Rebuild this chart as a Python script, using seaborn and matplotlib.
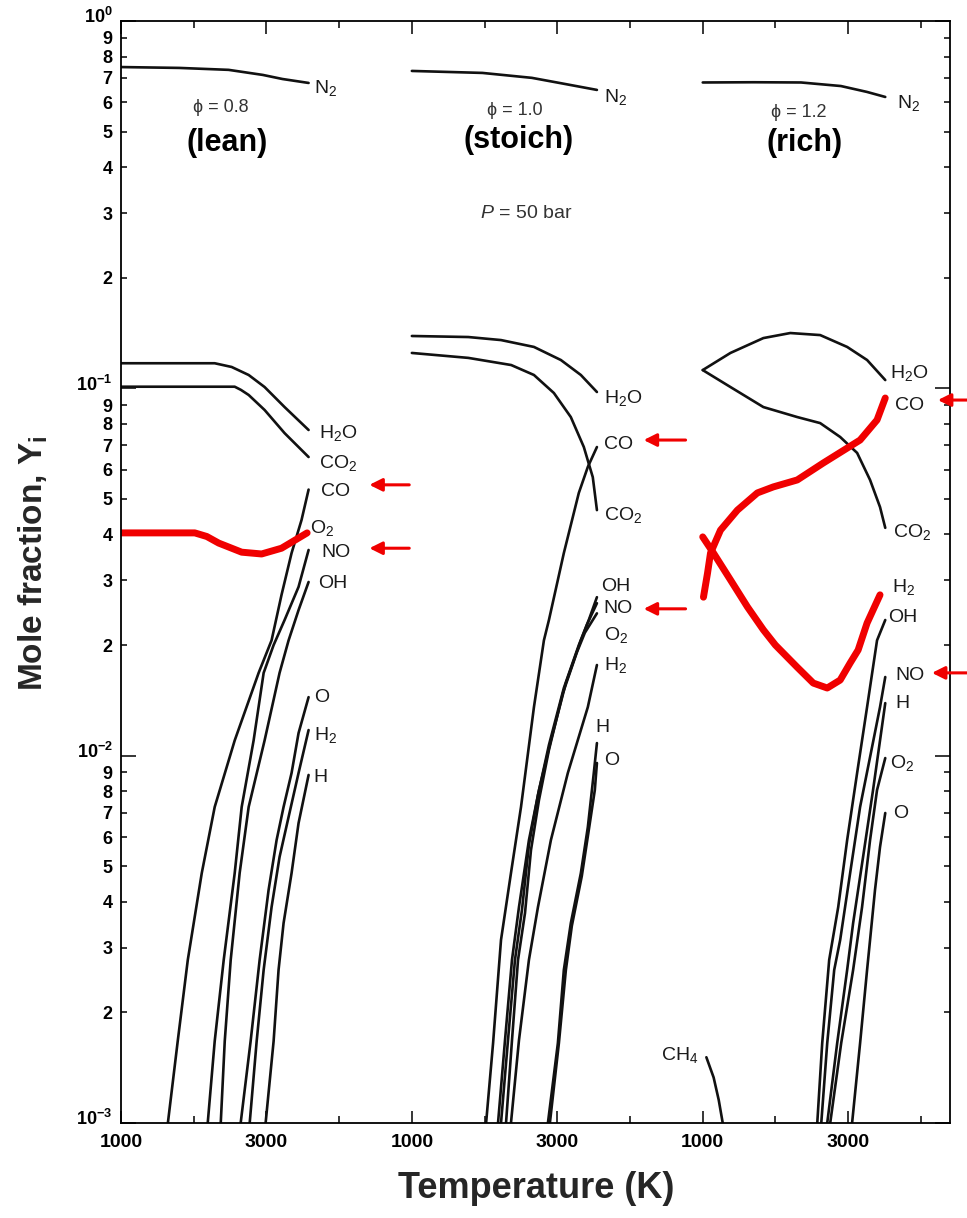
import matplotlib
matplotlib.use("Agg")
import matplotlib.pyplot as plt
import matplotlib.transforms as mtransforms
import numpy as np
import seaborn as sns
from matplotlib.ticker import FixedLocator, FixedFormatter

# Equilibrium mole fractions vs temperature, P = 50 bar, three mixtures.
# Each panel spans 4000 K on one shared x axis.
PANEL_WIDTH = 4000

# ---- lean, phi = 0.8 ----
lean_T_N2 = [1000, 1800, 2480, 2950, 3220, 3580]
lean_Y_N2 = [0.749, 0.745, 0.736, 0.713, 0.695, 0.678]
lean_T_H2O = [1000, 2289, 2522, 2756, 2975, 3250, 3580]
lean_Y_H2O = [0.117, 0.117, 0.1143, 0.1087, 0.1008, 0.0889, 0.077]
lean_T_CO2 = [1000, 2564, 2650, 2756, 2975, 3250, 3580]
lean_Y_CO2 = [0.101, 0.101, 0.099, 0.0959, 0.0873, 0.0755, 0.065]
lean_T_O2 = [1000, 2015, 2180, 2344, 2660, 2934, 3208, 3560]
lean_Y_O2 = [0.0404, 0.0404, 0.0395, 0.0379, 0.0358, 0.0354, 0.0367, 0.0404]
lean_T_CO = [1645, 1782, 1919, 2111, 2289, 2564, 2893, 3071, 3208, 3346, 3483, 3580]
lean_Y_CO = [0.001, 0.00168, 0.00278, 0.00479, 0.00725, 0.0110, 0.0168, 0.0206, 0.0274, 0.0356, 0.0438, 0.053]
lean_T_NO = [2193, 2289, 2413, 2564, 2660, 2824, 2962, 3099, 3250, 3442, 3580]
lean_Y_NO = [0.001, 0.00167, 0.00278, 0.00479, 0.00725, 0.0110, 0.0168, 0.0200, 0.0234, 0.0288, 0.0363]
lean_T_OH = [2372, 2427, 2509, 2632, 2756, 2975, 3181, 3305, 3442, 3580]
lean_Y_OH = [0.001, 0.00167, 0.00278, 0.00479, 0.00725, 0.0110, 0.0168, 0.0206, 0.0249, 0.0297]
lean_T_O = [2646, 2783, 2907, 3030, 3140, 3236, 3346, 3442, 3580]
lean_Y_O = [0.001, 0.00167, 0.00278, 0.00431, 0.00589, 0.00725, 0.00897, 0.01152, 0.01443]
lean_T_H2 = [2770, 2866, 2962, 3071, 3181, 3305, 3442, 3580]
lean_Y_H2 = [0.001, 0.00167, 0.00261, 0.00387, 0.0053, 0.00681, 0.00897, 0.01174]
lean_T_H = [2989, 3099, 3167, 3236, 3346, 3442, 3580]
lean_Y_H = [0.001, 0.00167, 0.00261, 0.0035, 0.00479, 0.00655, 0.00886]

# ---- stoichiometric, phi = 1.0 ----
stoich_T_N2 = [1000, 1970, 2650, 3100, 3545]
stoich_Y_N2 = [0.731, 0.722, 0.700, 0.674, 0.649]
stoich_T_H2O = [1000, 1776, 2226, 2679, 3049, 3324, 3545]
stoich_Y_H2O = [0.1388, 0.1379, 0.1353, 0.1296, 0.1194, 0.1087, 0.0977]
stoich_T_CO2 = [1000, 1776, 2366, 2679, 2953, 3186, 3365, 3488, 3545]
stoich_Y_CO2 = [0.1248, 0.121, 0.1157, 0.1087, 0.0971, 0.0835, 0.0692, 0.0573, 0.0466]
stoich_T_CO = [2021, 2117, 2226, 2363, 2501, 2679, 2816, 2885, 3090, 3296, 3420, 3545]
stoich_Y_CO = [0.001, 0.00165, 0.00315, 0.00479, 0.00725, 0.01356, 0.0206, 0.0234, 0.0356, 0.0519, 0.0611, 0.0692]
stoich_T_OH = [2185, 2281, 2377, 2473, 2610, 2748, 2912, 3118, 3324, 3433, 3545]
stoich_Y_OH = [0.001, 0.00168, 0.00278, 0.00387, 0.00589, 0.00806, 0.0110, 0.01576, 0.0206, 0.0234, 0.0270]
stoich_T_NO = [2226, 2322, 2418, 2514, 2610, 2734, 2885, 3090, 3296, 3406, 3545]
stoich_Y_NO = [0.001, 0.00168, 0.00278, 0.0038, 0.00571, 0.00781, 0.01069, 0.01528, 0.0200, 0.0227, 0.0260]
stoich_T_O2 = [2295, 2377, 2460, 2556, 2638, 2748, 2885, 3077, 3269, 3379, 3545]
stoich_Y_O2 = [0.001, 0.00168, 0.00278, 0.00373, 0.00553, 0.00757, 0.01036, 0.0148, 0.0191, 0.0216, 0.0244]
stoich_T_H2 = [2363, 2473, 2610, 2734, 2912, 3145, 3420, 3545]
stoich_Y_H2 = [0.001, 0.00168, 0.00278, 0.00387, 0.00589, 0.00897, 0.01356, 0.01765]
stoich_T_H = [2871, 3008, 3090, 3186, 3324, 3420, 3502, 3545]
stoich_Y_H = [0.001, 0.00165, 0.00261, 0.0035, 0.00479, 0.00639, 0.00897, 0.01082]
stoich_T_O = [2898, 3022, 3118, 3200, 3337, 3433, 3516, 3545]
stoich_Y_O = [0.001, 0.00165, 0.00261, 0.00344, 0.0047, 0.00627, 0.00806, 0.00955]

# ---- rich, phi = 1.2 ----
rich_T_N2 = [1000, 1700, 2352, 2900, 3257, 3510]
rich_Y_N2 = [0.680, 0.681, 0.680, 0.665, 0.641, 0.621]
rich_T_H2O = [1000, 1381, 1834, 2204, 2615, 2986, 3260, 3510]
rich_Y_H2O = [0.1121, 0.1248, 0.137, 0.1414, 0.1396, 0.1296, 0.1194, 0.1053]
rich_T_CO2 = [1000, 1381, 1834, 2300, 2615, 2890, 3123, 3301, 3438, 3510]
rich_Y_CO2 = [0.1121, 0.1008, 0.0889, 0.0835, 0.0804, 0.0737, 0.0667, 0.0563, 0.0475, 0.0417]
rich_T_CO = [1010, 1066, 1107, 1244, 1477, 1751, 1971, 2300, 2657, 3164, 3397, 3510]
rich_Y_CO = [0.0270, 0.0314, 0.0356, 0.0411, 0.0466, 0.0519, 0.0539, 0.0563, 0.0626, 0.0723, 0.0820, 0.0941]
rich_T_H2 = [1000, 1148, 1381, 1615, 1834, 1999, 2300, 2520, 2712, 2890, 3027, 3137, 3260, 3438]
rich_Y_H2 = [0.0394, 0.0356, 0.0301, 0.0254, 0.0220, 0.0200, 0.0174, 0.01576, 0.01528, 0.01606,
             0.01787, 0.01939, 0.02296, 0.0274]
rich_T_OH = [2575, 2643, 2739, 2863, 2986, 3123, 3260, 3397, 3510]
rich_Y_OH = [0.001, 0.00165, 0.00278, 0.00387, 0.00589, 0.00897, 0.01356, 0.0206, 0.0234]
rich_T_NO = [2630, 2712, 2808, 2890, 3027, 3164, 3301, 3438, 3510]
rich_Y_NO = [0.001, 0.00165, 0.00261, 0.00315, 0.00479, 0.00725, 0.00991, 0.01356, 0.01637]
rich_T_H = [2712, 2849, 2986, 3068, 3205, 3342, 3438, 3510]
rich_Y_H = [0.001, 0.00165, 0.00261, 0.0035, 0.0053, 0.00806, 0.0110, 0.0139]
rich_T_O2 = [2753, 2904, 3068, 3191, 3301, 3397, 3510]
rich_Y_O2 = [0.001, 0.00165, 0.00261, 0.00387, 0.00589, 0.00806, 0.00985]
rich_T_O = [3054, 3164, 3260, 3301, 3369, 3438, 3510]
rich_Y_O = [0.001, 0.00165, 0.00261, 0.00315, 0.00431, 0.00564, 0.00698]
rich_T_CH4 = [1050, 1150, 1220, 1275]
rich_Y_CH4 = [0.00151, 0.00133, 0.001155, 0.001]

# species labels at the curve ends: (text, T, mole fraction)
lean_labels = [("N$_2$", 3660, 0.657), ("H$_2$O", 3730, 0.0755), ("CO$_2$", 3730, 0.0626),
               ("CO", 3757, 0.0525), ("O$_2$", 3593, 0.0417), ("NO", 3757, 0.0358),
               ("OH", 3716, 0.0295), ("O", 3661, 0.01443), ("H$_2$", 3661, 0.01138),
               ("H", 3647, 0.00874)]
stoich_labels = [("N$_2$", 3640, 0.621), ("H$_2$O", 3640, 0.0941), ("CO", 3640, 0.0701),
                 ("CO$_2$", 3640, 0.0452), ("OH", 3598, 0.0288), ("NO", 3640, 0.0251),
                 ("O$_2$", 3640, 0.0213), ("H$_2$", 3640, 0.01765), ("H", 3530, 0.0119),
                 ("O", 3640, 0.00973)]
rich_labels = [("N$_2$", 3671, 0.598), ("H$_2$O", 3575, 0.110), ("CO", 3644, 0.090),
               ("CO$_2$", 3616, 0.0406), ("H$_2$", 3602, 0.0288), ("OH", 3548, 0.0237),
               ("NO", 3644, 0.01657), ("H", 3644, 0.0139), ("O$_2$", 3575, 0.00955),
               ("O", 3616, 0.00698)]

panel_phi = ["0.8", "1.0", "1.2"]
panel_names = ["(lean)", "(stoich)", "(rich)"]

# red arrows pointing at CO and NO labels: (x head, x tail, mole fraction), shared x axis
arrow_heads = [4416, 4416, 8188, 8188, 12234, 12152]
arrow_tails = [4964, 4964, 8764, 8764, 12632, 12632]
arrow_y = [0.0546, 0.0367, 0.0723, 0.0251, 0.0929, 0.0168]

sns.set_style("ticks")
plt.rcParams["font.family"] = ["Liberation Sans", "DejaVu Sans"]
plt.rcParams["mathtext.fontset"] = "custom"
plt.rcParams["mathtext.rm"] = "Liberation Sans"
plt.rcParams["mathtext.it"] = "Liberation Sans:italic"
plt.rcParams["mathtext.bf"] = "Liberation Sans:bold"
plt.rcParams["mathtext.default"] = "regular"

fig = plt.figure(figsize=(9.67, 12.18), dpi=100)
ax = fig.add_axes([0.1251, 0.078, 0.8573, 0.9048])
ax.set_yscale("log")

BLACK = "#111111"
RED = "#f00000"

panels = [
    [("N2", lean_T_N2, lean_Y_N2), ("H2O", lean_T_H2O, lean_Y_H2O), ("CO2", lean_T_CO2, lean_Y_CO2),
     ("CO", lean_T_CO, lean_Y_CO), ("NO", lean_T_NO, lean_Y_NO), ("OH", lean_T_OH, lean_Y_OH),
     ("O", lean_T_O, lean_Y_O), ("H2", lean_T_H2, lean_Y_H2), ("H", lean_T_H, lean_Y_H)],
    [("N2", stoich_T_N2, stoich_Y_N2), ("H2O", stoich_T_H2O, stoich_Y_H2O),
     ("CO2", stoich_T_CO2, stoich_Y_CO2), ("CO", stoich_T_CO, stoich_Y_CO),
     ("OH", stoich_T_OH, stoich_Y_OH), ("NO", stoich_T_NO, stoich_Y_NO),
     ("O2", stoich_T_O2, stoich_Y_O2), ("H2", stoich_T_H2, stoich_Y_H2),
     ("H", stoich_T_H, stoich_Y_H), ("O", stoich_T_O, stoich_Y_O)],
    [("N2", rich_T_N2, rich_Y_N2), ("H2O", rich_T_H2O, rich_Y_H2O), ("CO2", rich_T_CO2, rich_Y_CO2),
     ("OH", rich_T_OH, rich_Y_OH), ("NO", rich_T_NO, rich_Y_NO), ("H", rich_T_H, rich_Y_H),
     ("O2", rich_T_O2, rich_Y_O2), ("O", rich_T_O, rich_Y_O), ("CH4", rich_T_CH4, rich_Y_CH4)],
]
# curves drawn over in red in the reference
highlighted = [
    [(lean_T_O2, lean_Y_O2)],
    [],
    [(rich_T_CO, rich_Y_CO), (rich_T_H2, rich_Y_H2)],
]

for k, curves in enumerate(panels):
    shift = k * PANEL_WIDTH
    for name, T, Y in curves:
        sns.lineplot(x=np.array(T) + shift, y=Y, ax=ax, color=BLACK, linewidth=1.9,
                     sort=False, estimator=None, legend=False)
    for T, Y in highlighted[k]:
        sns.lineplot(x=np.array(T) + shift, y=Y, ax=ax, color=RED, linewidth=5,
                     sort=False, estimator=None, legend=False, solid_capstyle="round")

for k, labels in enumerate([lean_labels, stoich_labels, rich_labels]):
    shift = k * PANEL_WIDTH
    for text, T, Y in labels:
        ax.text(T + shift, Y, text, fontsize=14, color="#1a1a1a", ha="left", va="center")
ax.text(945 + 2 * PANEL_WIDTH, 0.00153, "CH$_4$", fontsize=14, color="#1a1a1a",
        ha="right", va="center")

# panel headings
phi_T = [2372, 2418, 2314]
phi_Y = [0.58, 0.572, 0.565]
name_T = [2454, 2473, 2396]
name_Y = [0.465, 0.474, 0.465]
for k in range(3):
    shift = k * PANEL_WIDTH
    ax.text(phi_T[k] + shift, phi_Y[k], "\u03d5 = " + panel_phi[k], fontsize=13,
            color="#333333", ha="center", va="center")
    ax.text(name_T[k] + shift, name_Y[k], panel_names[k], fontsize=22, fontweight="bold",
            color="black", ha="center", va="center")
ax.text(6569, 0.300, "$\\mathit{P}$ = 50 bar", fontsize=14, color="#333333",
        ha="center", va="center")

for head, tail, yv in zip(arrow_heads, arrow_tails, arrow_y):
    ax.annotate("", xy=(head, yv), xytext=(tail, yv), annotation_clip=False,
                arrowprops=dict(arrowstyle="-|>", color=RED, lw=2.2, mutation_scale=19,
                                shrinkA=0, shrinkB=0))

# axes, ticks
ax.set_xlim(1000, 1000 + 3 * PANEL_WIDTH - 600)
ax.set_ylim(1e-3, 1)
major_x = [1000 + k * PANEL_WIDTH + d for k in range(3) for d in (0, 2000)]
minor_x = [2000 + k * PANEL_WIDTH + d for k in range(3) for d in (0, 2000)]
ax.xaxis.set_major_locator(FixedLocator(major_x))
ax.xaxis.set_major_formatter(FixedFormatter(["1000", "3000"] * 3))
ax.xaxis.set_minor_locator(FixedLocator(minor_x))

decades = [-3, -2, -1, 0]
ax.yaxis.set_major_locator(FixedLocator([10.0 ** e for e in decades]))
ax.yaxis.set_major_formatter(FixedFormatter(["$10^{%d}$" % e for e in decades]))
minor_y = [m * 10.0 ** e for e in decades[:-1] for m in range(2, 10)]
ax.yaxis.set_minor_locator(FixedLocator(minor_y))
ax.yaxis.set_minor_formatter(FixedFormatter([str(m) for e in decades[:-1] for m in range(2, 10)]))

ax.tick_params(which="both", direction="in", top=True, right=True, labelsize=13,
               colors="black", width=1.1)
ax.tick_params(axis="x", which="both", labelsize=14)
ax.tick_params(axis="y", which="major", length=11, pad=6)
ax.tick_params(axis="y", which="minor", length=4.5, pad=6)
ax.tick_params(axis="x", which="major", length=9, pad=8)
ax.tick_params(axis="x", which="minor", length=5, pad=8)
for lab in ax.get_xticklabels() + ax.get_yticklabels(which="both"):
    lab.set_fontweight("bold")
# lift the decade labels a little so they clear the "9" just above them
lift = mtransforms.ScaledTranslation(0, 4 / 72, fig.dpi_scale_trans)
for lab in ax.get_yticklabels():
    lab.set_transform(lab.get_transform() + lift)
for sp in ax.spines.values():
    sp.set_linewidth(1.3)
    sp.set_color("black")
ax.set_xlabel("")
ax.set_ylabel("")

fig.text(0.5543, 0.0246, "Temperature (K)", fontsize=26, fontweight="bold",
         ha="center", va="center")
fig.text(0.034, 0.5378, "Mole fraction, Y$_i$", fontsize=24, fontweight="bold",
         rotation=90, ha="center", va="center")

fig.savefig("out.png", dpi=100)
